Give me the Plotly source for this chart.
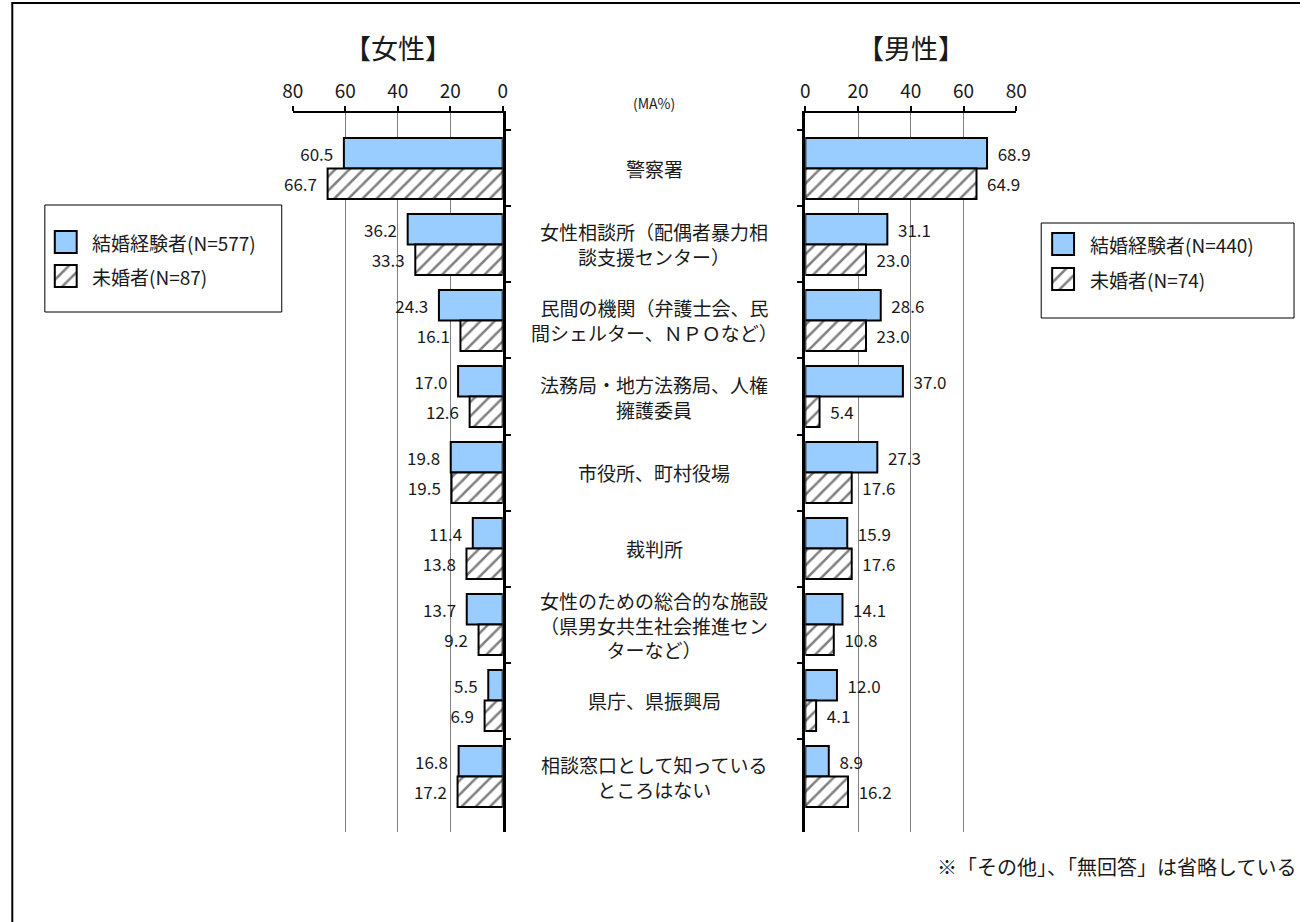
import plotly.graph_objects as go

W, H = 1311, 922
FONT = "Noto Sans CJK JP"
INK = "#1a1a1a"

# 相談窓口の項目（表示用に改行を含む）
categories = [
    "警察署",
    "女性相談所（配偶者暴力相<br>談支援センター）",
    "民間の機関（弁護士会、民<br>間シェルター、ＮＰＯなど）",
    "法務局・地方法務局、人権<br>擁護委員",
    "市役所、町村役場",
    "裁判所",
    "女性のための総合的な施設<br>（県男女共生社会推進セン<br>ターなど）",
    "県庁、県振興局",
    "相談窓口として知っている<br>ところはない",
]

# 女性
women_married = [60.5, 36.2, 24.3, 17.0, 19.8, 11.4, 13.7, 5.5, 16.8]
women_single = [66.7, 33.3, 16.1, 12.6, 19.5, 13.8, 9.2, 6.9, 17.2]
# 男性
men_married = [68.9, 31.1, 28.6, 37.0, 27.3, 15.9, 14.1, 12.0, 8.9]
men_single = [64.9, 23.0, 23.0, 5.4, 17.6, 17.6, 10.8, 4.1, 16.2]

tick_values = [0, 20, 40, 60, 80]
legend_women = ["結婚経験者(N=577)", "未婚者(N=87)"]
legend_men = ["結婚経験者(N=440)", "未婚者(N=74)"]

# ページ余白(8px)を除いた描画幅に対する位置の換算
PAGE_PAD = 8
INNER_W = W - 2 * PAGE_PAD


def px_x(p):
    return (p - PAGE_PAD) / INNER_W


def px_y(p):
    return 1 - p / H


BLUE = "#99CCFF"
LINE = dict(color="black", width=2)
HATCH = dict(shape="/", fgcolor="black", bgcolor="white", size=10, solidity=0.25)
TEXTFONT = dict(family=FONT, size=17, color=INK)
PAD = "\u00a0\u00a0"


def bar_marker(hatched):
    marker = dict(color="white" if hatched else BLUE, line=LINE)
    if hatched:
        marker["pattern"] = HATCH
    return marker


fig = go.Figure()


def add_bar(values, name, xa, ya, hatched, left_side):
    labels = [(f"{v:.1f}" + PAD) if left_side else (PAD + f"{v:.1f}") for v in values]
    fig.add_trace(go.Bar(
        y=categories, x=values, orientation="h", name=name,
        xaxis=xa, yaxis=ya, showlegend=False,
        marker=bar_marker(hatched),
        text=labels, textposition="outside",
        textfont=TEXTFONT, cliponaxis=False, constraintext="none",
    ))


add_bar(women_married, legend_women[0], "x", "y", False, True)
add_bar(women_single, legend_women[1], "x", "y", True, True)
add_bar(men_married, legend_men[0], "x2", "y2", False, False)
add_bar(men_single, legend_men[1], "x2", "y2", True, False)

y_dom = [px_y(832), px_y(113)]
n = len(categories)
y_range = [n - 0.5 + 0.23, -0.73]

xaxis_common = dict(
    side="top", tickvals=tick_values, showgrid=True, gridcolor="#808080", gridwidth=1,
    showline=True, linecolor="black", linewidth=2, ticks="outside", ticklen=5,
    tickcolor="black", tickwidth=1.5, zeroline=False,
    tickfont=dict(family=FONT, size=19, color=INK), fixedrange=True,
)
yaxis_common = dict(
    domain=y_dom, type="category", categoryorder="array", categoryarray=categories,
    range=y_range, showline=True, linecolor="black", linewidth=2.5,
    ticks="outside", tickson="boundaries", ticklen=6, tickcolor="black", tickwidth=1.5,
    showticklabels=False, showgrid=False, zeroline=False, fixedrange=True,
)

# 凡例ボックス（左：女性、右：男性）の位置と大きさ
legend_boxes = {
    "women": dict(x0=42, x1=280, y0=205, y1=312, sw_x=10, rows=[37, 71], text_x=45),
    "men": dict(x0=1043, x1=1297, y0=223, y1=318, sw_x=11, rows=[21, 56], text_x=47),
}
SW = 22

hidden = dict(visible=False, fixedrange=True)
fig.update_layout(
    width=W, height=H,
    margin=dict(l=0, r=0, t=0, b=0),
    paper_bgcolor="white", plot_bgcolor="white",
    barmode="group", bargap=0.2, bargroupgap=0,
    font=dict(family=FONT, color=INK),
    showlegend=False,
    xaxis=dict(domain=[px_x(291), px_x(502)], range=[80, 0], anchor="y", **xaxis_common),
    yaxis=dict(anchor="x", side="right", **yaxis_common),
    xaxis2=dict(domain=[px_x(806), px_x(1018)], range=[0, 80], anchor="y2", **xaxis_common),
    yaxis2=dict(anchor="x2", side="left", **yaxis_common),
)

annotations = []
shapes = []
for idx, (key, names) in enumerate([("women", legend_women), ("men", legend_men)]):
    b = legend_boxes[key]
    xa, ya = f"x{idx + 3}", f"y{idx + 3}"
    fig.update_layout({
        f"xaxis{idx + 3}": dict(domain=[px_x(b["x0"]), px_x(b["x1"])],
                                range=[0, b["x1"] - b["x0"]], anchor=ya, **hidden),
        f"yaxis{idx + 3}": dict(domain=[px_y(b["y1"]), px_y(b["y0"])],
                                range=[b["y1"] - b["y0"], 0], anchor=xa, **hidden),
    })
    for row, name, hatched in zip(b["rows"], names, [False, True]):
        fig.add_trace(go.Bar(
            x=[SW], base=[b["sw_x"]], y=[row], width=[SW], orientation="h",
            xaxis=xa, yaxis=ya, marker=bar_marker(hatched), name=name,
            showlegend=False, hoverinfo="skip",
        ))
        annotations.append(dict(
            x=b["text_x"], y=row, xref=xa, yref=ya, text=name, showarrow=False,
            xanchor="left", yanchor="middle",
            font=dict(family=FONT, size=19, color=INK),
        ))
    shapes.append(dict(type="rect", xref="paper", yref="paper",
                       x0=px_x(b["x0"]), x1=px_x(b["x1"]),
                       y0=px_y(b["y1"]), y1=px_y(b["y0"]),
                       line=dict(color="black", width=1)))

# 外枠（左と上）
shapes += [
    dict(type="line", xref="paper", yref="paper", x0=0.001, x1=0.001,
         y0=0, y1=px_y(2), line=dict(color="black", width=2)),
    dict(type="line", xref="paper", yref="paper", x0=0.001, x1=1,
         y0=px_y(3), y1=px_y(3), line=dict(color="black", width=2)),
]
fig.update_layout(shapes=shapes)

for cat in categories:
    annotations.append(dict(
        x=px_x(654), xref="paper", y=cat, yref="y", text=cat, showarrow=False,
        xanchor="center", yanchor="middle", align="center",
        font=dict(family=FONT, size=19, color=INK),
    ))
annotations += [
    dict(x=px_x(397), y=px_y(48), xref="paper", yref="paper", text="【女性】",
         showarrow=False, xanchor="center", yanchor="middle",
         font=dict(family=FONT, size=27, color=INK)),
    dict(x=px_x(912), y=px_y(48), xref="paper", yref="paper", text="【男性】",
         showarrow=False, xanchor="center", yanchor="middle",
         font=dict(family=FONT, size=27, color=INK)),
    dict(x=px_x(654), y=px_y(103), xref="paper", yref="paper", text="(MA%)",
         showarrow=False, xanchor="center", yanchor="middle",
         font=dict(family=FONT, size=14, color=INK)),
    dict(x=px_x(1301), y=px_y(866), xref="paper", yref="paper",
         text="※「その他」、「無回答」は省略している", showarrow=False,
         xanchor="right", yanchor="middle",
         font=dict(family=FONT, size=20, color=INK)),
]
fig.update_layout(annotations=annotations)

fig.write_html("out.html")
